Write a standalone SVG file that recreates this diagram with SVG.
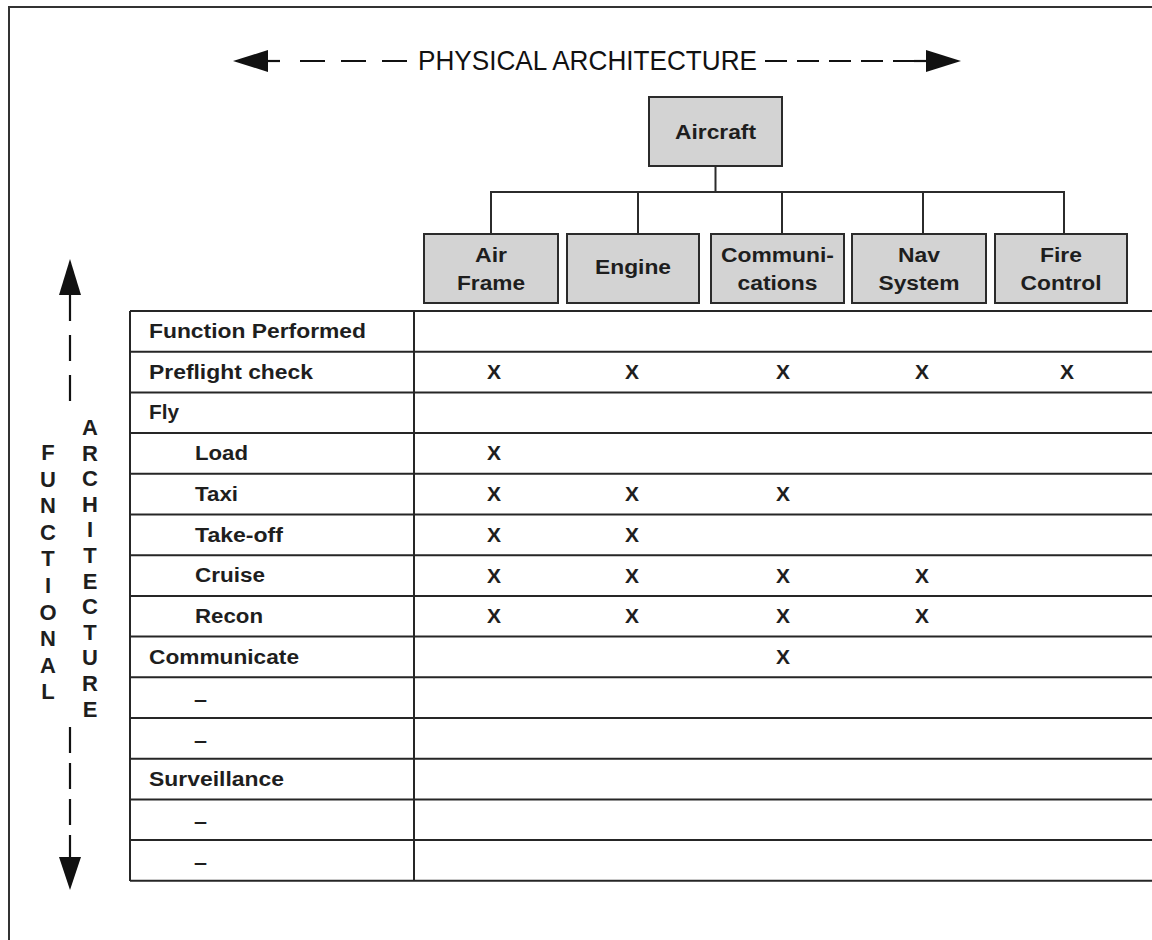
<svg xmlns="http://www.w3.org/2000/svg" width="1152" height="940" viewBox="0 0 1152 940">
<style>
  .frame{fill:none;stroke:#333;stroke-width:2}
  .box{fill:#d3d3d3;stroke:#2b2b2b;stroke-width:2}
  .bl{font-family:"Liberation Sans",Arial,sans-serif;font-weight:bold;font-size:20px;fill:#1e1e1e;text-anchor:middle}
  .tl{font-family:"Liberation Sans",Arial,sans-serif;font-weight:bold;font-size:20px;fill:#1e1e1e}
  .x{font-family:"Liberation Sans",Arial,sans-serif;font-weight:bold;font-size:21px;fill:#1e1e1e;text-anchor:middle}
  .vl{font-family:"Liberation Sans",Arial,sans-serif;font-weight:bold;font-size:22px;fill:#1e1e1e;text-anchor:middle}
  .ttl{font-family:"Liberation Sans",Arial,sans-serif;font-size:28px;fill:#111}
  .grid{stroke:#262626;stroke-width:2;fill:none}
  .conn{stroke:#2b2b2b;stroke-width:2;fill:none}
  .dash{stroke:#111;stroke-width:2.2;fill:none}
  .head{fill:#111}
</style>
<rect x="0" y="0" width="1152" height="940" fill="#fff"/>
<path class="frame" d="M9,945 V7 H1160"/>

<g id="physical-arrow">
  <polygon class="head" points="233,61 268,50 268,72"/>
  <line class="dash" x1="266" y1="61" x2="280" y2="61"/>
  <line class="dash" x1="300" y1="61" x2="410" y2="61" stroke-dasharray="25 16"/>
  <text class="ttl" x="418" y="70" textLength="339" lengthAdjust="spacingAndGlyphs">PHYSICAL ARCHITECTURE</text>
  <line class="dash" x1="765" y1="61" x2="916" y2="61" stroke-dasharray="22 10"/>
  <line class="dash" x1="914" y1="61" x2="928" y2="61"/>
  <polygon class="head" points="961,61 926,50 926,72"/>
</g>

<g id="functional-arrow">
  <polygon class="head" points="70,259 59,295 81,295"/>
  <line class="dash" x1="70" y1="293" x2="70" y2="407" stroke-dasharray="26 14" stroke-dashoffset="-2"/>
  <line class="dash" x1="70" y1="727" x2="70" y2="859" stroke-dasharray="26 10"/>
  <polygon class="head" points="70,890 59,857 81,857"/>
  <text class="vl"><tspan x="48" y="460">F</tspan><tspan x="48" y="486.6">U</tspan><tspan x="48" y="513.2">N</tspan><tspan x="48" y="539.8">C</tspan><tspan x="48" y="566.4">T</tspan><tspan x="48" y="593">I</tspan><tspan x="48" y="619.6">O</tspan><tspan x="48" y="646.2">N</tspan><tspan x="48" y="672.8">A</tspan><tspan x="48" y="699.4">L</tspan></text>
  <text class="vl"><tspan x="90" y="435">A</tspan><tspan x="90" y="460.6">R</tspan><tspan x="90" y="486.2">C</tspan><tspan x="90" y="511.8">H</tspan><tspan x="90" y="537.4">I</tspan><tspan x="90" y="563">T</tspan><tspan x="90" y="588.6">E</tspan><tspan x="90" y="614.2">C</tspan><tspan x="90" y="639.8">T</tspan><tspan x="90" y="665.4">U</tspan><tspan x="90" y="691">R</tspan><tspan x="90" y="716.6">E</tspan></text>
</g>

<g id="connectors">
  <line class="conn" x1="715.5" y1="166" x2="715.5" y2="192"/>
  <line class="conn" x1="490" y1="192" x2="1065" y2="192"/>
  <line class="conn" x1="491" y1="192" x2="491" y2="234"/>
  <line class="conn" x1="638" y1="192" x2="638" y2="234"/>
  <line class="conn" x1="782" y1="192" x2="782" y2="234"/>
  <line class="conn" x1="923" y1="192" x2="923" y2="234"/>
  <line class="conn" x1="1064" y1="192" x2="1064" y2="234"/>
</g>

<g id="aircraft">
  <rect class="box" x="649" y="97" width="133" height="69"/>
  <text class="bl" x="715.5" y="139" textLength="81" lengthAdjust="spacingAndGlyphs">Aircraft</text>
</g>
<g id="airframe">
  <rect class="box" x="424" y="234" width="134" height="69"/>
  <text class="bl" x="491" y="262" textLength="32" lengthAdjust="spacingAndGlyphs">Air</text>
  <text class="bl" x="491" y="290" textLength="68" lengthAdjust="spacingAndGlyphs">Frame</text>
</g>
<g id="engine">
  <rect class="box" x="567" y="234" width="132" height="69"/>
  <text class="bl" x="633" y="274" textLength="76" lengthAdjust="spacingAndGlyphs">Engine</text>
</g>
<g id="communications">
  <rect class="box" x="711" y="234" width="133" height="69"/>
  <text class="bl" x="777.5" y="262" textLength="113" lengthAdjust="spacingAndGlyphs">Communi-</text>
  <text class="bl" x="777.5" y="290" textLength="80" lengthAdjust="spacingAndGlyphs">cations</text>
</g>
<g id="navsystem">
  <rect class="box" x="852" y="234" width="134" height="69"/>
  <text class="bl" x="919" y="262" textLength="42" lengthAdjust="spacingAndGlyphs">Nav</text>
  <text class="bl" x="919" y="290" textLength="81" lengthAdjust="spacingAndGlyphs">System</text>
</g>
<g id="firecontrol">
  <rect class="box" x="995" y="234" width="132" height="69"/>
  <text class="bl" x="1061" y="262" textLength="42" lengthAdjust="spacingAndGlyphs">Fire</text>
  <text class="bl" x="1061" y="290" textLength="81" lengthAdjust="spacingAndGlyphs">Control</text>
</g>

<g id="table">
  <path class="grid" d="M130,311 V881 M414,311 V881
    M130,311 H1160 M130,351.7 H1160 M130,392.4 H1160 M130,433.1 H1160 M130,473.8 H1160
    M130,514.5 H1160 M130,555.2 H1160 M130,595.9 H1160 M130,636.6 H1160 M130,677.3 H1160
    M130,718 H1160 M130,758.7 H1160 M130,799.4 H1160 M130,840.1 H1160 M130,880.8 H1160"/>
  <text class="tl" x="149" y="338" textLength="217" lengthAdjust="spacingAndGlyphs">Function Performed</text>
  <text class="tl" x="149" y="378.7" textLength="164" lengthAdjust="spacingAndGlyphs">Preflight check</text>
  <text class="tl" x="149" y="419.4" textLength="30" lengthAdjust="spacingAndGlyphs">Fly</text>
  <text class="tl" x="195" y="460" textLength="53" lengthAdjust="spacingAndGlyphs">Load</text>
  <text class="tl" x="195" y="500.8" textLength="43" lengthAdjust="spacingAndGlyphs">Taxi</text>
  <text class="tl" x="195" y="541.5" textLength="88" lengthAdjust="spacingAndGlyphs">Take-off</text>
  <text class="tl" x="195" y="582.2" textLength="70" lengthAdjust="spacingAndGlyphs">Cruise</text>
  <text class="tl" x="195" y="622.9" textLength="68" lengthAdjust="spacingAndGlyphs">Recon</text>
  <text class="tl" x="149" y="663.6" textLength="150" lengthAdjust="spacingAndGlyphs">Communicate</text>
  <text class="tl" x="194" y="706.3" textLength="13" lengthAdjust="spacingAndGlyphs">–</text>
  <text class="tl" x="194" y="747" textLength="13" lengthAdjust="spacingAndGlyphs">–</text>
  <text class="tl" x="149" y="785.7" textLength="135" lengthAdjust="spacingAndGlyphs">Surveillance</text>
  <text class="tl" x="194" y="828.4" textLength="13" lengthAdjust="spacingAndGlyphs">–</text>
  <text class="tl" x="194" y="869.1" textLength="13" lengthAdjust="spacingAndGlyphs">–</text>

  <g id="marks">
    <text class="x" x="494" y="379">X</text>
    <text class="x" x="632" y="379">X</text>
    <text class="x" x="783" y="379">X</text>
    <text class="x" x="922" y="379">X</text>
    <text class="x" x="1067" y="379">X</text>

    <text class="x" x="494" y="460.3">X</text>

    <text class="x" x="494" y="501.1">X</text>
    <text class="x" x="632" y="501.1">X</text>
    <text class="x" x="783" y="501.1">X</text>

    <text class="x" x="494" y="541.8">X</text>
    <text class="x" x="632" y="541.8">X</text>

    <text class="x" x="494" y="582.5">X</text>
    <text class="x" x="632" y="582.5">X</text>
    <text class="x" x="783" y="582.5">X</text>
    <text class="x" x="922" y="582.5">X</text>

    <text class="x" x="494" y="623.2">X</text>
    <text class="x" x="632" y="623.2">X</text>
    <text class="x" x="783" y="623.2">X</text>
    <text class="x" x="922" y="623.2">X</text>

    <text class="x" x="783" y="663.9">X</text>
  </g>
</g>
</svg>
